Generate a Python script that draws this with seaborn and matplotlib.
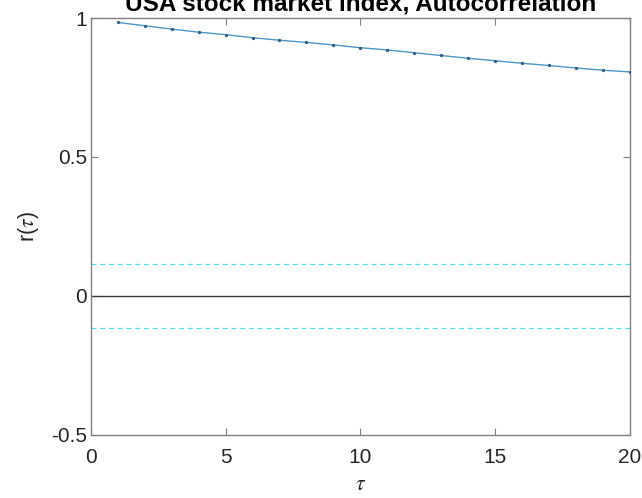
import matplotlib
matplotlib.use("Agg")
import matplotlib.pyplot as plt
import seaborn as sns
import pandas as pd

# Sample autocorrelation of the index for lags 1..20
lags = list(range(1, 21))
acf = [0.984, 0.972, 0.960, 0.949, 0.940, 0.929, 0.920, 0.912, 0.903, 0.893,
       0.885, 0.875, 0.865, 0.855, 0.846, 0.837, 0.829, 0.820, 0.812, 0.806]
conf_bound = 0.115  # approximate 95% significance band
title = "USA stock market index, Autocorrelation"
xticks = [0, 5, 10, 15, 20]
yticks = [-0.5, 0, 0.5, 1]
ytick_labels = ["-0.5", "0", "0.5", "1"]

sns.set_theme(style="white")
plt.rcParams["font.family"] = ["Liberation Sans", "DejaVu Sans"]
plt.rcParams["mathtext.fontset"] = "stix"

df = pd.DataFrame({"lag": lags, "r": acf})

fig = plt.figure(figsize=(6.42, 4.98), dpi=100)
ax = fig.add_axes([91 / 642, 1 - 434.5 / 498, (629.5 - 91) / 642, (434.5 - 18) / 498])

ax.axhline(0, color="#3a3a3a", lw=1.0, zorder=2)
ax.axhline(conf_bound, color="#5fdce4", lw=0.9, ls=(0, (4, 3)), zorder=2)
ax.axhline(-conf_bound, color="#5fdce4", lw=0.9, ls=(0, (4, 3)), zorder=2)

sns.lineplot(data=df, x="lag", y="r", ax=ax, color="#4f98c4", lw=1.0,
             marker="o", markersize=1.6, markerfacecolor="#35607f",
             markeredgecolor="#35607f", zorder=3)

ax.set_xlim(0, 20)
ax.set_ylim(-0.5, 1)
ax.set_xticks(xticks)
ax.set_xticklabels([str(t) for t in xticks])
ax.set_yticks(yticks)
ax.set_yticklabels(ytick_labels)

for s in ax.spines.values():
    s.set_color("#808080")
    s.set_linewidth(1.0)
    s.set_visible(True)

ax.tick_params(axis="both", which="major", direction="in", length=5, width=0.8,
               color="#808080", labelsize=15, labelcolor="#262626",
               top=True, right=True, bottom=True, left=True)
ax.tick_params(axis="x", pad=10)
ax.tick_params(axis="y", pad=3)

ax.set_xlabel(r"$\tau$", fontsize=15.5, color="#262626", labelpad=5)
ax.set_ylabel(r"r($\tau$)", fontsize=15.5, color="#262626", labelpad=7)

fig.text(0.5 * (91 + 629.5) / 642, 1 - 11 / 498, title, ha="center", va="baseline",
         fontsize=17.5, fontweight="bold", color="black")

fig.savefig("out.png", dpi=100, facecolor="white")
